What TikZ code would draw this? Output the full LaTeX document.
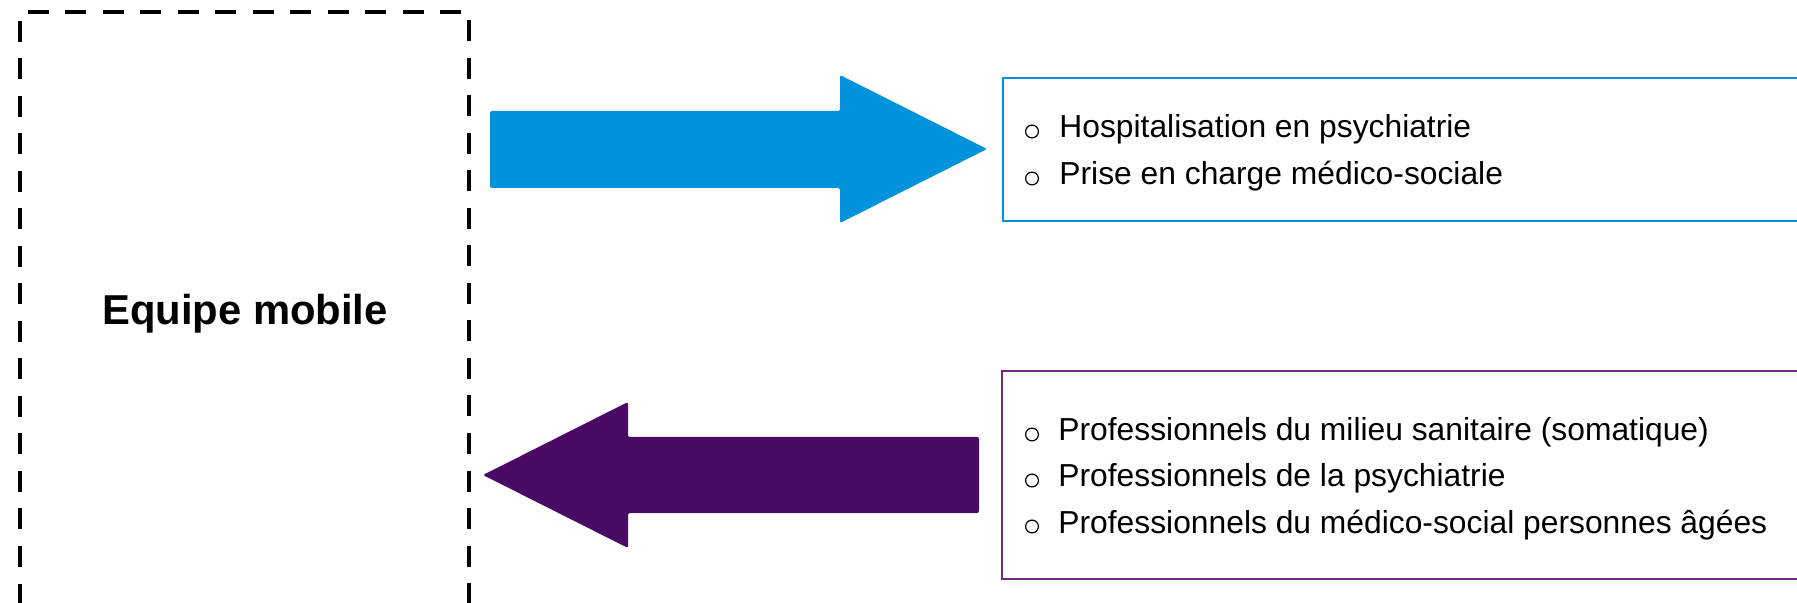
\documentclass[tikz,border=0pt]{standalone}
\usepackage{fontspec}
\setmainfont{Liberation Sans}
\usepackage{tikz}
\usetikzlibrary{positioning}

\definecolor{bleuFleche}{RGB}{2,146,219}
\definecolor{violetFleche}{RGB}{73,10,102}
\definecolor{violetCadre}{RGB}{112,40,130}

\begin{document}
\begin{tikzpicture}[x=0.5pt,y=-0.5pt,inner sep=0pt,
                    item/.style={anchor=base west,font=\fontsize{15.9}{19}\selectfont},
                    puce/.style={circle,draw,line width=0.6pt,minimum size=6.4pt}]

  \useasboundingbox (0,0) rectangle (1797,603);

  \tikzstyle{cadre equipe} = [draw,line width=2.4pt,dash pattern=on 10.5pt off 8.25pt,
                              minimum width=224.5pt,minimum height=296.5pt]
  \node[cadre equipe] (E) at (244.5,308.5) {};
  \node[anchor=base,font=\bfseries\fontsize{20.9}{25}\selectfont] (Elbl) at (245,325) {Equipe mobile};

  % fleche vers les prises en charge
  \fill[bleuFleche,rounded corners=1pt]
        (490,111) -- (840,111) -- (840,75) -- (987,149) -- (840,223) -- (840,188) -- (490,188) -- cycle;
  % fleche des professionnels
  \fill[violetFleche,rounded corners=1pt]
        (979,437) -- (628,437) -- (628,402) -- (483,475) -- (628,548) -- (628,513) -- (979,513) -- cycle;

  \draw[bleuFleche,line width=1pt] (1820,78) -- (1003,78) -- (1003,221) -- (1820,221);
  \node[puce] (P1) at (1032,131.5) {};
  \node[item] (H1) at (1059,138) {Hospitalisation en psychiatrie};
  \node[puce] (P2) at (1032,178.5) {};
  \node[item] (H2) at (1059,185) {Prise en charge médico-sociale};

  \draw[violetCadre,line width=1pt] (1820,371) -- (1002,371) -- (1002,579) -- (1820,579);
  \node[puce] (P3) at (1032,434.5) {};
  \node[item] (S1) at (1058,441) {Professionnels du milieu sanitaire (somatique)};
  \node[puce] (P4) at (1032,480.5) {};
  \node[item] (S2) at (1058,487) {Professionnels de la psychiatrie};
  \node[puce] (P5) at (1032,526.5) {};
  \node[item] (S3) at (1058,533) {Professionnels du médico-social personnes âgées};
\end{tikzpicture}
\end{document}
